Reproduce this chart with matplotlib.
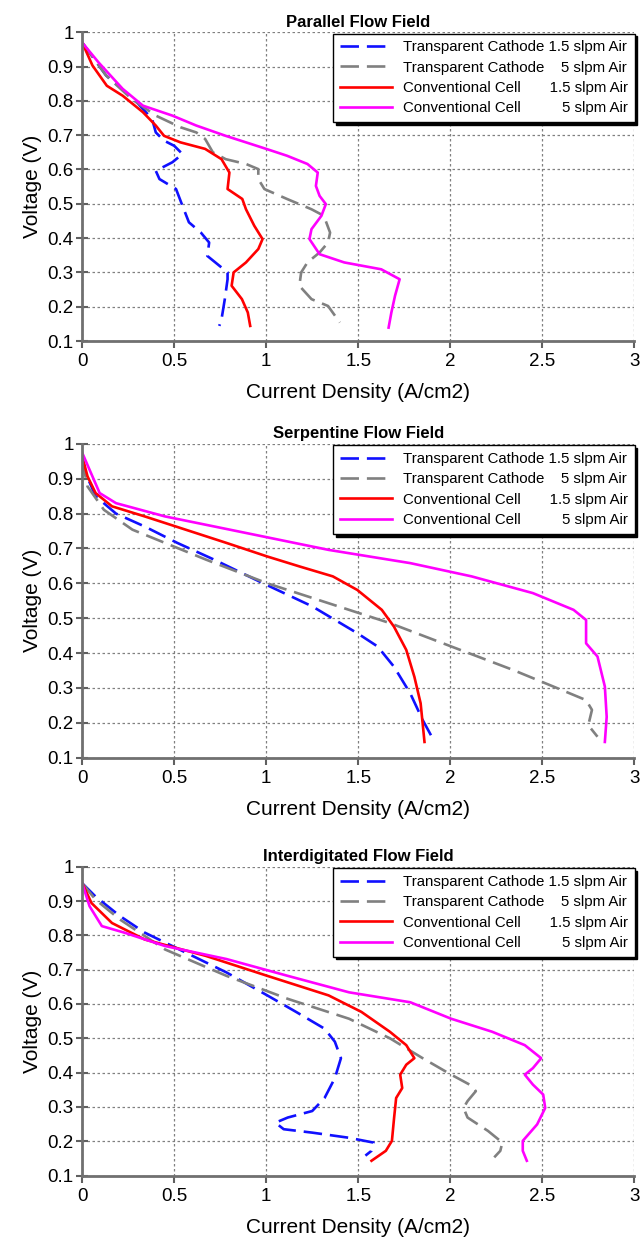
import matplotlib
matplotlib.use("Agg")
from matplotlib import pyplot as plt
import numpy as np
from matplotlib.ticker import FuncFormatter

plt.rcParams['font.family'] = ['Liberation Sans', 'DejaVu Sans']

titles = ['Parallel Flow Field', 'Serpentine Flow Field', 'Interdigitated Flow Field']
labels = ['Transparent Cathode 1.5 slpm Air',
          'Transparent Cathode    5 slpm Air',
          'Conventional Cell       1.5 slpm Air',
          'Conventional Cell          5 slpm Air']

# ---- Parallel flow field ----
par_tc15_i = [0.0, 0.13, 0.29, 0.38, 0.40, 0.445, 0.50, 0.545, 0.49, 0.40, 0.42, 0.51, 0.545, 0.58,
              0.645, 0.69, 0.68, 0.735, 0.79, 0.79, 0.775, 0.757, 0.745]
par_tc15_v = [0.97, 0.874, 0.80, 0.747, 0.708, 0.684, 0.669, 0.645, 0.621, 0.596, 0.572, 0.543, 0.494,
              0.446, 0.416, 0.387, 0.348, 0.324, 0.300, 0.280, 0.222, 0.163, 0.144]
par_tc5_i = [0.0, 0.13, 0.27, 0.40, 0.534, 0.62, 0.668, 0.71, 0.78, 0.89, 0.957, 0.957, 0.99, 1.113,
             1.246, 1.313, 1.347, 1.336, 1.29, 1.224, 1.19, 1.18, 1.246, 1.336, 1.40]
par_tc5_v = [0.97, 0.874, 0.805, 0.757, 0.723, 0.708, 0.689, 0.65, 0.63, 0.616, 0.601, 0.572, 0.543,
             0.514, 0.484, 0.465, 0.416, 0.387, 0.358, 0.329, 0.30, 0.261, 0.222, 0.202, 0.154]
par_cc15_i = [0.0, 0.056, 0.134, 0.22, 0.33, 0.40, 0.445, 0.534, 0.668, 0.757, 0.80, 0.79, 0.87, 0.89,
              0.935, 0.98, 0.957, 0.89, 0.823, 0.812, 0.868, 0.90, 0.913]
par_cc15_v = [0.97, 0.903, 0.844, 0.815, 0.767, 0.728, 0.698, 0.679, 0.66, 0.63, 0.591, 0.543, 0.514,
              0.484, 0.436, 0.397, 0.368, 0.329, 0.30, 0.261, 0.222, 0.183, 0.144]
par_cc5_i = [0.0, 0.089, 0.22, 0.33, 0.49, 0.62, 0.78, 1.0, 1.113, 1.224, 1.28, 1.27, 1.29, 1.324,
             1.30, 1.246, 1.235, 1.29, 1.424, 1.625, 1.725, 1.70, 1.68, 1.665]
par_cc5_v = [0.97, 0.912, 0.835, 0.786, 0.757, 0.728, 0.698, 0.66, 0.64, 0.616, 0.591, 0.552, 0.523,
             0.499, 0.465, 0.426, 0.397, 0.353, 0.329, 0.309, 0.28, 0.232, 0.183, 0.139]

# ---- Serpentine flow field ----
ser_tc15_i = [0.0, 0.018, 0.073, 0.184, 0.34, 0.517, 0.717, 0.984, 1.25, 1.495, 1.605, 1.694, 1.783,
              1.85, 1.91]
ser_tc15_v = [0.965, 0.917, 0.85, 0.80, 0.763, 0.716, 0.668, 0.60, 0.534, 0.457, 0.419, 0.361, 0.284,
              0.208, 0.15]
ser_tc5_i = [0.0, 0.029, 0.118, 0.273, 0.45, 0.673, 1.006, 1.339, 1.672, 2.005, 2.339, 2.56, 2.738,
             2.77, 2.75, 2.80]
ser_tc5_v = [0.955, 0.878, 0.811, 0.754, 0.716, 0.668, 0.60, 0.543, 0.486, 0.419, 0.352, 0.304, 0.265,
             0.237, 0.193, 0.16]
ser_cc15_i = [0.0, 0.029, 0.073, 0.162, 0.34, 0.562, 0.784, 1.006, 1.184, 1.362, 1.495, 1.628, 1.694,
              1.761, 1.805, 1.839, 1.85, 1.86]
ser_cc15_v = [0.965, 0.907, 0.859, 0.821, 0.792, 0.754, 0.716, 0.677, 0.648, 0.62, 0.581, 0.524, 0.476,
              0.409, 0.332, 0.256, 0.198, 0.145]
ser_cc5_i = [0.0, 0.04, 0.095, 0.184, 0.45, 0.895, 1.339, 1.783, 2.116, 2.449, 2.67, 2.738, 2.738,
             2.80, 2.84, 2.85, 2.84]
ser_cc5_v = [0.975, 0.926, 0.859, 0.83, 0.792, 0.744, 0.696, 0.658, 0.62, 0.572, 0.524, 0.495, 0.428,
             0.39, 0.304, 0.217, 0.145]

# ---- Interdigitated flow field ----
int_tc15_i = [0.0, 0.073, 0.206, 0.34, 0.562, 0.784, 1.006, 1.162, 1.317, 1.373, 1.406, 1.373, 1.317,
              1.25, 1.117, 1.05, 1.095, 1.25, 1.45, 1.583, 1.572, 1.539]
int_tc15_v = [0.952, 0.913, 0.856, 0.808, 0.75, 0.692, 0.625, 0.577, 0.528, 0.49, 0.442, 0.384, 0.326,
              0.288, 0.269, 0.254, 0.235, 0.225, 0.21, 0.196, 0.172, 0.158]
int_tc5_i = [0.0, 0.073, 0.206, 0.45, 0.784, 1.117, 1.45, 1.672, 1.85, 2.005, 2.105, 2.139, 2.094,
             2.072, 2.094, 2.205, 2.283, 2.272, 2.239]
int_tc5_v = [0.952, 0.904, 0.846, 0.759, 0.682, 0.615, 0.557, 0.50, 0.442, 0.394, 0.365, 0.346, 0.317,
             0.297, 0.269, 0.23, 0.196, 0.172, 0.153]
int_cc15_i = [0.0, 0.051, 0.162, 0.34, 0.673, 1.006, 1.339, 1.517, 1.672, 1.761, 1.805, 1.761, 1.728,
              1.739, 1.706, 1.695, 1.683, 1.65, 1.572]
int_cc15_v = [0.952, 0.894, 0.836, 0.788, 0.74, 0.682, 0.625, 0.577, 0.519, 0.48, 0.442, 0.423, 0.394,
              0.355, 0.326, 0.269, 0.201, 0.172, 0.143]
int_cc5_i = [0.0, 0.04, 0.107, 0.229, 0.45, 0.784, 1.117, 1.45, 1.783, 2.005, 2.228, 2.405, 2.494,
             2.449, 2.405, 2.449, 2.505, 2.516, 2.472, 2.394, 2.394, 2.416]
int_cc5_v = [0.952, 0.885, 0.827, 0.808, 0.769, 0.731, 0.682, 0.634, 0.605, 0.557, 0.519, 0.48, 0.442,
             0.413, 0.394, 0.365, 0.336, 0.297, 0.249, 0.201, 0.172, 0.143]

panels = [
    [(par_tc15_i, par_tc15_v), (par_tc5_i, par_tc5_v), (par_cc15_i, par_cc15_v), (par_cc5_i, par_cc5_v)],
    [(ser_tc15_i, ser_tc15_v), (ser_tc5_i, ser_tc5_v), (ser_cc15_i, ser_cc15_v), (ser_cc5_i, ser_cc5_v)],
    [(int_tc15_i, int_tc15_v), (int_tc5_i, int_tc5_v), (int_cc15_i, int_cc15_v), (int_cc5_i, int_cc5_v)],
]

colors = ['#1010ff', '#808080', '#ff0000', '#ff00ff']
styles = [(0, (7, 3)), (0, (7, 3)), '-', '-']

fig = plt.figure(figsize=(6.42, 12.4), dpi=100)
bottoms = [0.725, 0.389, 0.052]
heights = [0.249, 0.253, 0.249]

for k in range(3):
    ax = fig.add_axes([0.128, bottoms[k], 0.860, heights[k]])
    for j in range(4):
        xs, ys = panels[k][j]
        ax.plot(xs, ys, color=colors[j], linestyle=styles[j], linewidth=1.9, label=labels[j])

    ax.set_xlim(0, 3)
    ax.set_ylim(0.1, 1.0)
    ax.set_xticks(np.arange(0, 3.01, 0.5))
    ax.set_yticks(np.arange(0.1, 1.001, 0.1))
    ax.xaxis.set_major_formatter(FuncFormatter(lambda v, p: '%g' % v))
    ax.yaxis.set_major_formatter(FuncFormatter(lambda v, p: '%g' % round(v, 1)))
    ax.tick_params(labelsize=13.5, width=1.5, color='#606060')
    ax.tick_params(axis='y', direction='inout', length=8, pad=2)
    ax.tick_params(axis='x', direction='out', length=5, pad=4)

    ax.grid(True, color='#808080', linestyle=(0, (2, 2)), linewidth=0.9)
    ax.spines['top'].set_visible(False)
    ax.spines['right'].set_visible(False)
    ax.spines['left'].set_color('#707070')
    ax.spines['bottom'].set_color('#707070')
    ax.spines['left'].set_linewidth(2)
    ax.spines['bottom'].set_linewidth(2)
    ax.set_axisbelow(True)

    ax.set_xlabel('Current Density (A/cm2)', fontsize=15, labelpad=9)
    ax.set_ylabel('Voltage (V)', fontsize=15, labelpad=4)
    ax.set_title(titles[k], fontsize=12, fontweight='bold', pad=4)

    leg = ax.legend(loc='upper right', bbox_to_anchor=(1.006, 1.005), fontsize=10.8,
                    handlelength=3.5, handletextpad=0.7, frameon=True, fancybox=False,
                    borderpad=0.45, labelspacing=0.42, borderaxespad=0.2,
                    shadow={'color': 'black', 'alpha': 1})
    leg.get_frame().set_edgecolor('black')
    leg.get_frame().set_linewidth(1.0)

plt.savefig('out.png', dpi=100)
